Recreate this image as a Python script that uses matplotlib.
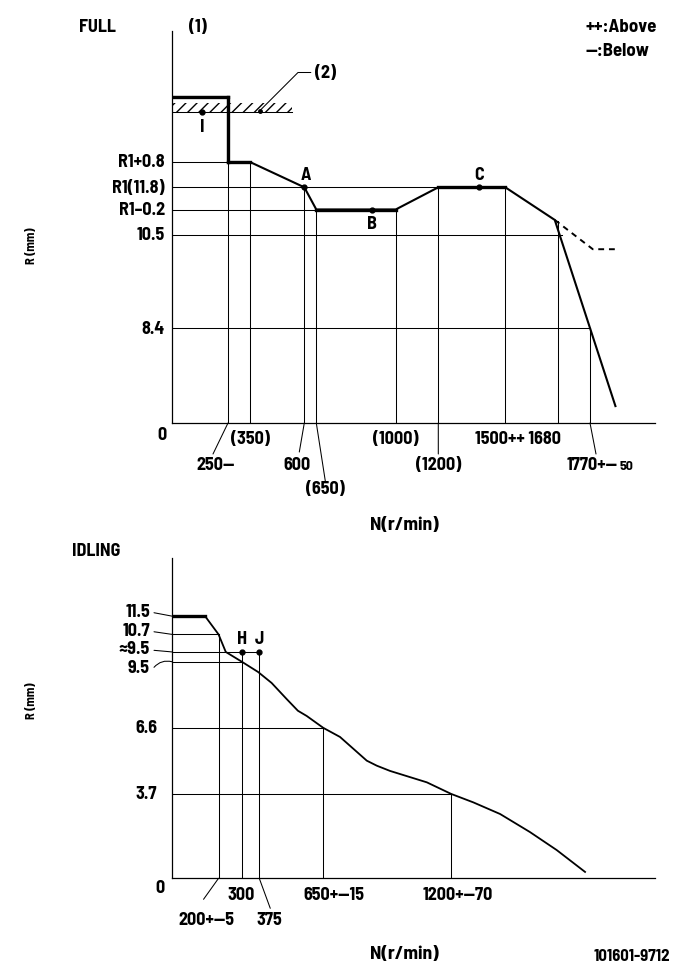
import numpy as np
import matplotlib
matplotlib.use("Agg")
import matplotlib.pyplot as plt
from matplotlib.patches import Rectangle

plt.rcParams['font.family'] = ['Barlow Semi Condensed', 'DejaVu Sans']
plt.rcParams['font.weight'] = 'bold'
plt.rcParams['hatch.linewidth'] = 1.0

# ---------------- data: FULL ----------------
full_rpm = [0, 250, 250, 350, 600, 650, 1000, 1200, 1500, 1668, 1860]
full_mm = [14.5, 14.5, 12.6, 12.6, 11.8, 11.6, 11.6, 11.8, 11.8, 11.15, 1.5]
full_thick = [(0, 1), (1, 2), (2, 3), (5, 6), (7, 8)]
below_rpm = [1668, 1780, 1870]
below_mm = [11.15, 10.18, 10.18]
limit_mm = 14.0          # stopper (2)
limit_rpm_end = 543
stopper_pt = (396, 14.05)
full_h_mm = [12.6, 11.8, 11.6, 10.5, 8.4]
full_h_end = [250, 1200, 650, 1690, 1770]
full_ylabels = ['R1+0.8', 'R1(11.8)', 'R1–0.2', '10.5', '8.4']
full_v_rpm = [350, 600, 650, 1000, 1200, 1500, 1680, 1770]
full_v_top = [12.6, 11.8, 11.6, 11.6, 11.8, 11.8, 11.1, 8.4]
full_pts = {'A': (600, 11.8), 'B': (895, 11.6), 'C': (1382, 11.8), 'I': (133, 14.0)}

# ---------------- data: IDLING ----------------
idle_rpm = [0, 142, 200, 231, 300, 370, 428, 493, 541, 579, 650, 722, 837, 880,
            937, 1095, 1200, 1295, 1410, 1538, 1653, 1775]
idle_mm = [11.5, 11.5, 10.7, 9.93, 9.5, 9.05, 8.57, 7.86, 7.35, 7.12, 6.6, 6.2,
           5.16, 4.94, 4.71, 4.21, 3.7, 3.33, 2.82, 2.03, 1.24, 0.28]
idle_h_mm = [10.7, 9.93, 9.5, 6.6, 3.7]
idle_h_end = [200, 375, 300, 650, 1200]
idle_v_rpm = [200, 300, 375, 650, 1200]
idle_v_top = [10.7, 9.93, 9.93, 6.6, 3.7]
idle_pts = {'H': (300, 9.93), 'J': (375, 9.93)}

# ---------------- schematic (not-to-scale) axis mapping ----------------
top_x_rpm = [0, 250, 350, 600, 650, 1000, 1200, 1500, 1680, 1770, 2000]
top_x_px = [172, 228, 250, 304.3, 316.3, 395.7, 438.3, 505.3, 558.3, 590, 655]
top_y_mm = [0, 8.4, 10.5, 11.6, 11.8, 12.6, 14.0, 14.5, 16.2]
top_y_px = [424, 329.3, 236, 210.5, 188.3, 163, 113, 98, 32]

def fx(v):
    return np.interp(v, top_x_rpm, top_x_px)

def ix(u):
    return np.interp(u, top_x_px, top_x_rpm)

def fy(v):
    return -np.interp(v, top_y_mm, top_y_px)

def iy(u):
    return np.interp(-np.asarray(u), top_y_px[::-1], top_y_mm[::-1])

W, H = 681, 979
fig = plt.figure(figsize=(W / 100, H / 100), dpi=100)

def px_rect(l, t, r, b):
    return [l / W, 1 - b / H, (r - l) / W, (b - t) / H]

def ftext(x, y, s, **kw):
    fig.text(x / W, 1 - y / H, s, **kw)

FS = 13
THIN = 0.75

ax1 = fig.add_axes(px_rect(172, 32, 655, 424))
ax1.set_xscale('function', functions=(fx, ix))
ax1.set_yscale('function', functions=(fy, iy))
ax1.set_xlim(0, 2000)
ax1.set_ylim(0, 16.2)

ax2 = fig.add_axes(px_rect(172, 559, 655, 879.3))
ax2.set_xlim(0, 2075.6)
ax2.set_ylim(0, 14.05)

for ax in (ax1, ax2):
    for s in ('top', 'right'):
        ax.spines[s].set_visible(False)
    for s in ('left', 'bottom'):
        ax.spines[s].set_linewidth(0.9)
    ax.set_xticks([])
    ax.set_yticks([])
    ax.patch.set_alpha(0)

def leader(ax, xy, dxy, **kw):
    ax.annotate('', xy=xy, xytext=dxy, textcoords='offset pixels',
                arrowprops=dict(arrowstyle='-', lw=THIN, color='black',
                                shrinkA=0, shrinkB=0, **kw),
                annotation_clip=False)

def label(ax, xy, dxy, s, ha='center', va='center', fs=FS):
    ax.annotate(s, xy=xy, xytext=dxy, textcoords='offset pixels',
                ha=ha, va=va, fontsize=fs, annotation_clip=False)

# ---- FULL reference lines ----
for m, e in zip(full_h_mm, full_h_end):
    ax1.plot([0, e], [m, m], color='black', lw=THIN)
for r, t in zip(full_v_rpm, full_v_top):
    ax1.plot([r, r], [0, t], color='black', lw=THIN)
ax1.plot([250, 250], [0, 12.6], color='black', lw=THIN)

# stopper hatch
ax1.add_patch(Rectangle((0, limit_mm), limit_rpm_end, 0.3, hatch='///',
                        fill=False, edgecolor='black', lw=0))
ax1.plot([0, limit_rpm_end], [limit_mm, limit_mm], color='black', lw=THIN)

# FULL curve
ax1.plot(full_rpm, full_mm, color='black', lw=1.5, solid_joinstyle='miter')
for a, b in full_thick:
    ax1.plot(full_rpm[a:b + 1], full_mm[a:b + 1], color='black', lw=2.4,
             solid_capstyle='projecting')
ax1.plot(below_rpm, below_mm, color='black', lw=1.4, dashes=(3, 2.5))

for k, (r, m) in full_pts.items():
    ax1.plot([r], [m], 'o', color='black', ms=3.5)
off = {'A': (2, 13), 'B': (0, -14), 'C': (0, 13), 'I': (0, -15)}
for k, (r, m) in full_pts.items():
    label(ax1, (r, m), off[k], k)

# leader (2)
ax1.annotate('(2)', xy=stopper_pt, xytext=(55, 38), textcoords='offset pixels',
             ha='left', va='center', fontsize=FS,
             arrowprops=dict(arrowstyle='-', lw=THIN, color='black', shrinkA=1,
                             shrinkB=0, relpos=(0, 0.5),
                             connectionstyle='angle,angleA=180,angleB=45,rad=0'))
ax1.plot([stopper_pt[0]], [stopper_pt[1]], 'o', color='black', ms=2.5)

# y labels FULL
for m, s in zip(full_h_mm, full_ylabels):
    label(ax1, (0, m), (-7, 0), s, ha='right')
label(ax1, (0, 0), (-10, -11), '0')

# x labels FULL
label(ax1, (350, 0), (0, -16), '(350)')
label(ax1, (250, 0), (-12, -42), '250—')
leader(ax1, (250, 0), (-15, -31))
label(ax1, (600, 0), (-7, -42), '600')
leader(ax1, (600, 0), (-5, -29))
label(ax1, (650, 0), (9, -66), '(650)')
leader(ax1, (650, 0), (9, -58))
label(ax1, (1000, 0), (0, -16), '(1000)')
label(ax1, (1200, 0), (0, -42), '(1200)')
leader(ax1, (1200, 0), (0, -31))
label(ax1, (1500, 0), (-30, -16), '1500++ 1680', ha='left')
label(ax1, (1770, 0), (-23, -42), '1770+—', ha='left')
label(ax1, (1770, 0), (30, -42), '50', ha='left', fs=10)
leader(ax1, (1770, 0), (6, -31))

# ---- IDLING ----
for m, e in zip(idle_h_mm, idle_h_end):
    ax2.plot([0, e], [m, m], color='black', lw=THIN)
for r, t in zip(idle_v_rpm, idle_v_top):
    ax2.plot([r, r], [0, t], color='black', lw=THIN)
ax2.plot(idle_rpm, idle_mm, color='black', lw=1.3)
ax2.plot(idle_rpm[:2], idle_mm[:2], color='black', lw=2.4)
for k, (r, m) in idle_pts.items():
    ax2.plot([r], [m], 'o', color='black', ms=3.5)
    label(ax2, (r, m), (0, 13), k)

# y labels IDLING
ylab2 = [(11.5, '11.5', 4.5, 3.4, 0), (10.7, '10.7', 3.6, 2.6, 0),
         (9.93, '≈9.5', 3, 1.6, 0), (9.5, '9.5', -5.6, -5.6, -0.3)]
for m, s, dy, ly, rad in ylab2:
    label(ax2, (0, m), (-22, dy), s, ha='right')
    leader(ax2, (0, m), (-18, ly), connectionstyle=f'arc3,rad={rad}')
label(ax2, (0, 6.6), (-15, 0), '6.6', ha='right')
label(ax2, (0, 3.7), (-15, 0), '3.7', ha='right')
label(ax2, (0, 0), (-12, -9), '0')

# x labels IDLING
label(ax2, (300, 0), (-1, -16), '300')
label(ax2, (200, 0), (-12, -41), '200+—5')
leader(ax2, (200, 0), (-15, -21))
label(ax2, (375, 0), (10.5, -41), '375')
leader(ax2, (375, 0), (11, -30))
label(ax2, (650, 0), (11, -16), '650+—15')
label(ax2, (1200, 0), (7, -16), '1200+—70')

# ---- figure texts ----
ftext(79, 27, 'FULL', ha='left', va='center', fontsize=FS)
ftext(198, 27, '(1)', ha='center', va='center', fontsize=FS)
ftext(585, 27, '++:Above', ha='left', va='center', fontsize=FS + 0.5)
ftext(585, 51, '—:Below', ha='left', va='center', fontsize=FS + 0.5)
ftext(404, 525, 'N(r/min)', ha='center', va='center', fontsize=FS + 1)
ftext(31, 246, 'R (mm)', ha='center', va='center', rotation=90, fontsize=9)
ftext(72, 552, 'IDLING', ha='left', va='center', fontsize=FS)
ftext(31, 701, 'R (mm)', ha='center', va='center', rotation=90, fontsize=9)
ftext(404, 955, 'N(r/min)', ha='center', va='center', fontsize=FS + 1)
ftext(670, 957, '101601-9712', ha='right', va='center', fontsize=12)

fig.savefig('out.png', dpi=100)
